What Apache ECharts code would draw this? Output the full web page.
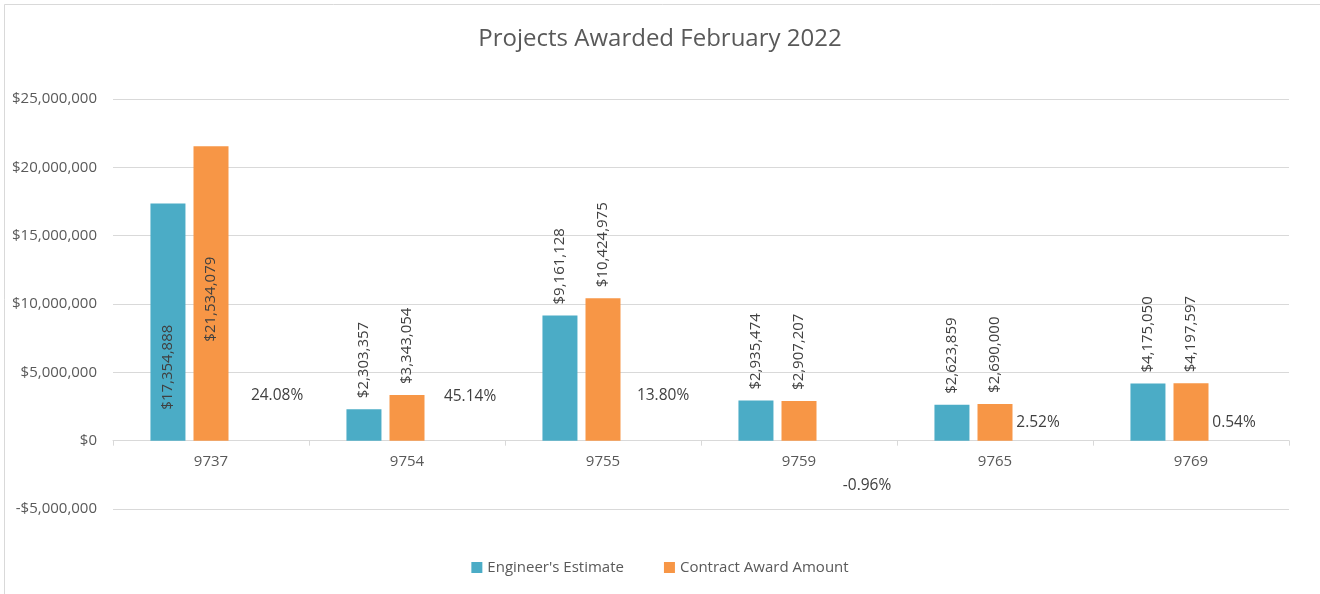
<!DOCTYPE html>
<html>
<head>
<meta charset="utf-8">
<title>Projects Awarded February 2022</title>
<script src="https://cdn.jsdelivr.net/npm/echarts@6/dist/echarts.min.js"></script>
<style>
  html, body { margin: 0; padding: 0; background: #fff; }
  #chart { width: 1320px; height: 594px; }
</style>
</head>
<body>
<div id="chart"></div>
<script>
"use strict";

var projects = ['9737', '9754', '9755', '9759', '9765', '9769'];
var engineerEstimate = [17354888, 2303357, 9161128, 2935474, 2623859, 4175050];
var contractAward = [21534079, 3343054, 10424975, 2907207, 2690000, 4197597];
var pctDifference = [0.2408, 0.4514, 0.1380, -0.0096, 0.0252, 0.0054];

// where each percentage label was dragged to, relative to its bar slot
var pctLabelOffsets = [[23, -45], [20, -44], [17, -45], [25, 45], [0, -18], [0, -18]];

var FONT = '"Open Sans", "Noto Sans", sans-serif';

function money(v) {
	var s = Math.abs(Math.round(v)).toString().replace(/\B(?=(\d{3})+(?!\d))/g, ',');
	return (v < 0 ? '-$' : '$') + s;
}

function valueLabels(values, tallIndex, tallDistance) {
	var out = [];
	for (var i = 0; i < values.length; i++) {
		var item = { value: values[i] };
		if (i === tallIndex) {
			item.label = { position: 'insideBottom', distance: tallDistance };
		}
		out.push(item);
	}
	return out;
}

var valueLabel = {
	show: true,
	position: 'top',
	distance: 11,
	rotate: 90,
	align: 'left',
	verticalAlign: 'middle',
	color: '#404040',
	fontSize: 15,
	fontFamily: FONT,
	formatter: function(p) { return money(p.value); }
};

var pctData = [];
for (var k = 0; k < pctDifference.length; k++) {
	pctData.push({
		value: pctDifference[k],
		label: { offset: pctLabelOffsets[k] }
	});
}

var chart = echarts.init(document.getElementById('chart'));

chart.setOption({
	animation: false,
	backgroundColor: '#fff',
	textStyle: { fontFamily: FONT },
	title: {
		text: 'Projects Awarded February 2022',
		left: 'center',
		top: 22,
		textStyle: { color: '#595959', fontSize: 24, fontWeight: 'normal', fontFamily: FONT }
	},
	graphic: [
		{ type: 'line', shape: { x1: 4.5, y1: 4.5, x2: 1320, y2: 4.5 }, style: { stroke: '#d9d9d9', lineWidth: 1 } },
		{ type: 'line', shape: { x1: 4.5, y1: 4.5, x2: 4.5, y2: 594 }, style: { stroke: '#d9d9d9', lineWidth: 1 } }
	],
	legend: {
		data: ["Engineer's Estimate", 'Contract Award Amount'],
		bottom: 14,
		left: 'center',
		icon: 'rect',
		itemWidth: 11,
		itemHeight: 11,
		itemGap: 40,
		textStyle: { color: '#595959', fontSize: 15, fontFamily: FONT }
	},
	grid: { left: 113, right: 31, top: 99, bottom: 85 },
	xAxis: {
		type: 'category',
		data: projects,
		offset: -68.33,
		axisLine: { onZero: false, lineStyle: { color: '#d9d9d9' } },
		axisTick: { show: true, length: 5, lineStyle: { color: '#d9d9d9' } },
		axisLabel: { color: '#595959', fontSize: 15, fontFamily: FONT, margin: 14 },
		splitLine: { show: false }
	},
	yAxis: {
		type: 'value',
		min: -5000000,
		max: 25000000,
		interval: 5000000,
		axisLine: { show: false },
		axisTick: { show: false },
		axisLabel: { color: '#595959', fontSize: 15, fontFamily: FONT, margin: 16, formatter: money },
		splitLine: { lineStyle: { color: '#d9d9d9' } }
	},
	series: [
		{
			name: "Engineer's Estimate",
			type: 'bar',
			barWidth: 35,
			barGap: '23%',
			itemStyle: { color: '#4BACC6' },
			label: valueLabel,
			data: valueLabels(engineerEstimate, 0, 31)
		},
		{
			name: 'Contract Award Amount',
			type: 'bar',
			barWidth: 35,
			barGap: '23%',
			itemStyle: { color: '#F79646' },
			label: valueLabel,
			data: valueLabels(contractAward, 0, 99)
		},
		{
			name: 'Difference',
			type: 'bar',
			barWidth: 35,
			barGap: '23%',
			itemStyle: { color: 'rgba(0,0,0,0)' },
			label: {
				show: true,
				position: 'inside',
				color: '#404040',
				fontSize: 15.5,
				fontFamily: FONT,
				formatter: function(p) { return (p.value * 100).toFixed(2) + '%'; }
			},
			data: pctData
		}
	]
});
</script>
</body>
</html>
